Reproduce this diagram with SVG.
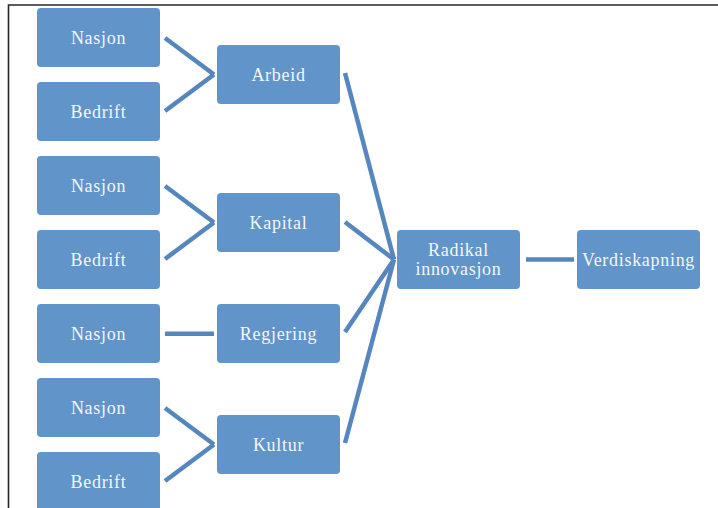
<svg xmlns="http://www.w3.org/2000/svg" width="718" height="508" viewBox="0 0 718 508">
<style>
.n{fill:#6194c8;}
.t{font-family:"Liberation Serif",serif;font-size:18px;letter-spacing:0.7px;fill:#f4f7fb;text-anchor:middle;}
.c line{stroke:#5586bd;stroke-width:4.5;stroke-linecap:butt;}
</style>
<rect width="718" height="508" fill="#ffffff"/>
<path d="M8.5 508 V5 H718" fill="none" stroke="#262626" stroke-width="1.6"/>
<g class="c" id="connectors">
<line x1="165" y1="38" x2="214" y2="74.5"/>
<line x1="165" y1="111" x2="214" y2="74.5"/>
<line x1="165" y1="186" x2="214" y2="222.5"/>
<line x1="165" y1="259" x2="214" y2="222.5"/>
<line x1="165" y1="333.8" x2="214" y2="333.8"/>
<line x1="165" y1="408" x2="214" y2="444.5"/>
<line x1="165" y1="481" x2="214" y2="444.5"/>
<line x1="345" y1="73" x2="394" y2="259.5"/>
<line x1="345" y1="222" x2="394" y2="259.5"/>
<line x1="345" y1="332" x2="394" y2="259.5"/>
<line x1="345" y1="443" x2="394" y2="259.5"/>
<line x1="526" y1="259.5" x2="574" y2="259.5"/>
</g>
<g id="n1"><rect class="n" x="37" y="8" width="123" height="59" rx="4"/><text class="t" x="98.5" y="44">Nasjon</text></g>
<g id="n2"><rect class="n" x="37" y="82" width="123" height="59" rx="4"/><text class="t" x="98.5" y="118">Bedrift</text></g>
<g id="n3"><rect class="n" x="37" y="156" width="123" height="59" rx="4"/><text class="t" x="98.5" y="192">Nasjon</text></g>
<g id="n4"><rect class="n" x="37" y="230" width="123" height="59" rx="4"/><text class="t" x="98.5" y="266">Bedrift</text></g>
<g id="n5"><rect class="n" x="37" y="304" width="123" height="59" rx="4"/><text class="t" x="98.5" y="340">Nasjon</text></g>
<g id="n6"><rect class="n" x="37" y="378" width="123" height="59" rx="4"/><text class="t" x="98.5" y="414">Nasjon</text></g>
<g id="n7"><rect class="n" x="37" y="452" width="123" height="59" rx="4"/><text class="t" x="98.5" y="488">Bedrift</text></g>
<g id="arbeid"><rect class="n" x="217" y="45" width="123" height="59" rx="4"/><text class="t" x="278.5" y="81">Arbeid</text></g>
<g id="kapital"><rect class="n" x="217" y="193" width="123" height="59" rx="4"/><text class="t" x="278.5" y="229">Kapital</text></g>
<g id="regjering"><rect class="n" x="217" y="304" width="123" height="59" rx="4"/><text class="t" x="278.5" y="340">Regjering</text></g>
<g id="kultur"><rect class="n" x="217" y="415" width="123" height="59" rx="4"/><text class="t" x="278.5" y="451">Kultur</text></g>
<g id="radikal"><rect class="n" x="397" y="230" width="123" height="59" rx="4"/><text class="t" x="458.5" y="255.5">Radikal</text><text class="t" x="458.5" y="275">innovasjon</text></g>
<g id="verdiskapning"><rect class="n" x="577" y="230" width="123" height="59" rx="4"/><text class="t" x="638.5" y="266">Verdiskapning</text></g>
</svg>
